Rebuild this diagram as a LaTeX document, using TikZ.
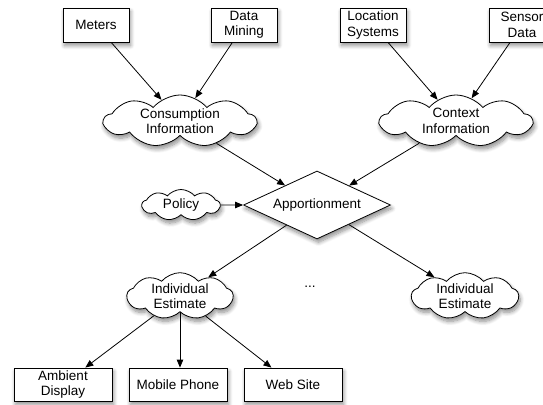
\documentclass[tikz,border=0pt]{standalone}
\usepackage{fontspec}
\setmainfont{Liberation Sans}
\usetikzlibrary{shapes.geometric,shapes.symbols,arrows.meta,shadows.blur}

\begin{document}
\begin{tikzpicture}[x=1pt,y=-1pt,
  font=\fontsize{13.5}{15.5}\selectfont,
  softshadow/.style={blur shadow={shadow xshift=1.5pt,shadow yshift=-3.5pt,
      shadow blur radius=4pt,shadow blur steps=8,shadow opacity=45}},
  box/.style={draw,fill=white,line width=0.8pt,minimum width=66pt,
      minimum height=34pt,inner sep=1pt,align=center,softshadow},
  puff/.style={cloud,cloud puffs=9,cloud puff arc=100,cloud ignores aspect,
      draw,fill=white,line width=0.8pt,align=center,inner sep=0pt,softshadow},
  gem/.style={diamond,aspect=2.16,draw,fill=white,line width=0.8pt,
      minimum width=147pt,minimum height=68pt,inner sep=0pt,softshadow},
  link/.style={-{Triangle[length=8pt,width=6.5pt]},line width=0.8pt}
]
\useasboundingbox (0,0) rectangle (543,404);
\clip (0,0) rectangle (543,404);

% data sources
\node[box] (meters)   at (96,25)  {Meters};
\node[box] (mining)   at (244,25) {Data\\Mining};
\node[box] (location) at (373,25) {Location\\Systems};
\node[box] (sensor)   at (522,25) {Sensor\\Data};

% aggregated information
\node[puff,minimum width=152pt,minimum height=52pt] (consumption) at (180,121)
  {Consumption\\Information};
\node[puff,minimum width=152pt,minimum height=52pt] (context) at (456,121)
  {Context\\Information};

% apportionment step
\node[gem] (apportion) at (317,205) {Apportionment};
\node[puff,minimum width=78pt,minimum height=31pt] (policy) at (181,205) {Policy};

% per-person estimates
\node[puff,minimum width=106pt,minimum height=44pt] (estA) at (180,296)
  {Individual\\Estimate};
\node[puff,minimum width=107pt,minimum height=44pt] (estB) at (465,296)
  {Individual\\Estimate};
\node (dots) at (310,287) {...};

% feedback channels
\node[box,minimum width=98pt,minimum height=33pt] (ambient) at (63,384.5)  {Ambient\\Display};
\node[box,minimum width=98pt,minimum height=33pt] (mobile)  at (178,384.5) {Mobile Phone};
\node[box,minimum width=98pt,minimum height=33pt] (web)     at (293,384.5) {Web Site};

% connectors
\draw[link] (meters)   -- (consumption);
\draw[link] (mining)   -- (consumption);
\draw[link] (location) -- (context);
\draw[link] (sensor)   -- (context);
\draw[link] (consumption) -- (apportion);
\draw[link] (context)     -- (apportion);
\draw[link] (policy)      -- (apportion);
\draw[link] (apportion) -- (estA);
\draw[link] (apportion) -- (estB);
\draw[link] (estA) -- (ambient);
\draw[link] (estA) -- (estA |- mobile.north);
\draw[link] (estA) -- (web);
\end{tikzpicture}
\end{document}
